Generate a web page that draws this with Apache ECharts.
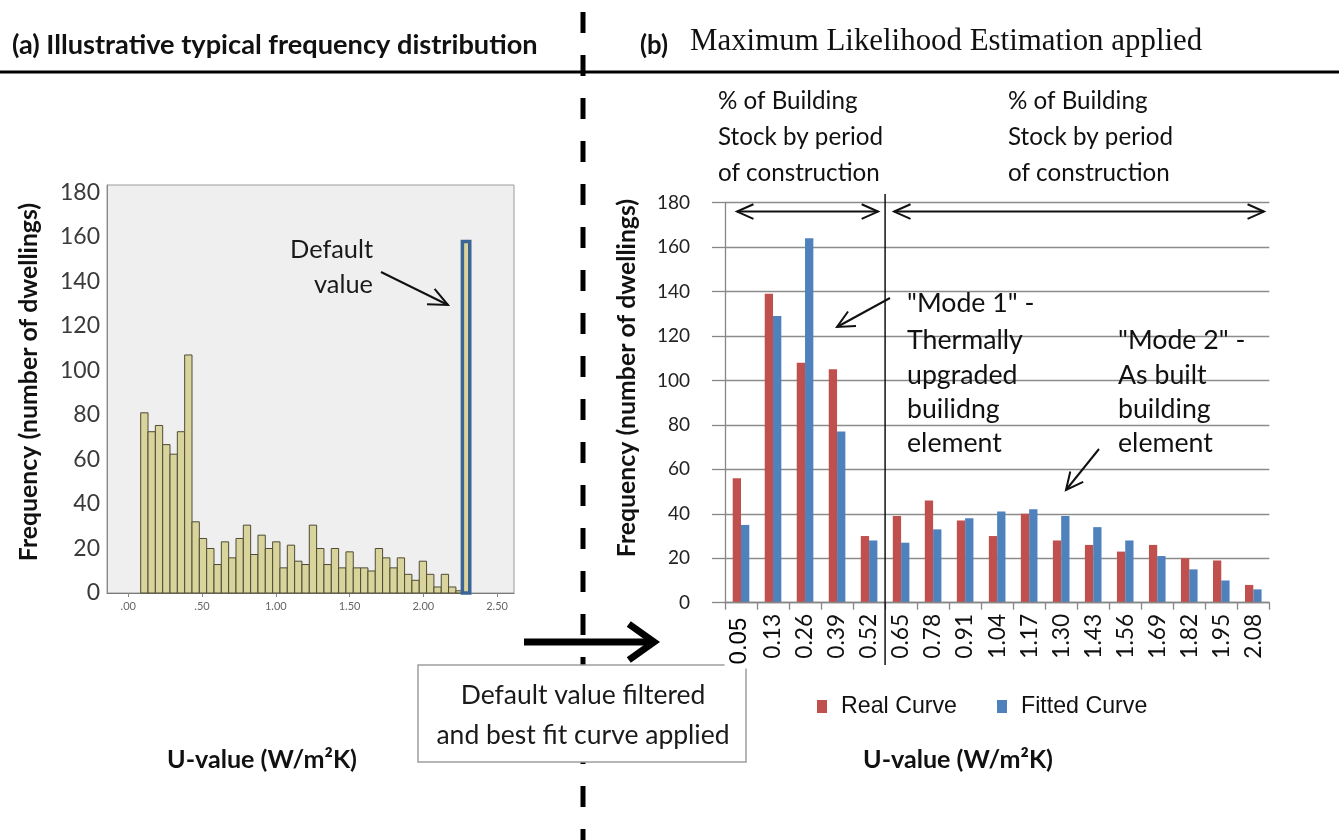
<!DOCTYPE html>
<html><head><meta charset="utf-8">
<script src="https://cdn.jsdelivr.net/npm/echarts@6/dist/echarts.min.js"></script>
<style>html,body{margin:0;padding:0;background:#fff}#c{width:1339px;height:840px}</style>
</head><body><div id="c"></div><script>
// ---------------- DATA ----------------
// (a) histogram: bins of U-value, counts
const histStart = 0.084;       // left edge of the first bin (U-value)
const histBinWidth = 0.0497;   // bin width (U-value)
const histCounts = [81,72.5,75.3,66.7,62.4,72.5,107,32,24.5,20,12.8,23,15.8,24.5,30.5,17.3,26,20,23,11.3,21.5,14.3,12.8,30.5,20,12.8,20,11.3,18.5,11.3,11.3,9.9,20,15.8,11.3,15.8,8.4,5.7,14.3,8.4,2.7,8.4,2.7,1];
const defaultBin = [2.265, 2.315, 158];   // [from, to, count] of the default-value bin
const histXTicks = [0, 0.5, 1, 1.5, 2, 2.5];
const histYTicks = [0, 20, 40, 60, 80, 100, 120, 140, 160, 180];

// (b) MLE applied
const uCategories = ['0.05','0.13','0.26','0.39','0.52','0.65','0.78','0.91','1.04','1.17','1.30','1.43','1.56','1.69','1.82','1.95','2.08'];
const realCurve   = [56,139,108,105,30,39,46,37,30,40,28,26,23,26,20,19,8];
const fittedCurve = [35,129,164,77,28,27,33,38,41,42,39,34,28,21,15,10,6];
const freqTicks = [0, 20, 40, 60, 80, 100, 120, 140, 160, 180];

// ---------------- helpers ----------------
const cv = document.createElement('canvas').getContext('2d');
function fit(text, width, family, weight){ cv.font = (weight||'normal') + ' 100px ' + family; return +(100*width/cv.measureText(text).width).toFixed(1); }
function tw(text, size, family, weight){ cv.font = (weight||'normal') + ' ' + size + 'px ' + family; return cv.measureText(text).width; }
const SANS = 'Lato';

function txt(text, x, y, size, opt, z){
  return {type:'text', x:x, y:y, silent:true, z:(z==null?100:z), style:Object.assign({text:text, fontSize:size, fontFamily:SANS, fill:'#111', align:'left', verticalAlign:'middle'}, opt||{})};
}
function head(x1,y1,x2,y2,len,ang,w,color){
  const a = Math.atan2(y2-y1, x2-x1);
  return {type:'polyline', silent:true, z:100, shape:{points:[[x2-len*Math.cos(a-ang), y2-len*Math.sin(a-ang)],[x2,y2],[x2-len*Math.cos(a+ang), y2-len*Math.sin(a+ang)]]}, style:{stroke:color, lineWidth:w, fill:null, lineJoin:'miter'}};
}
function line(x1,y1,x2,y2,w,color,dash,z){
  return {type:'line', silent:true, z:(z==null?100:z), shape:{x1:x1,y1:y1,x2:x2,y2:y2}, style:{stroke:color, lineWidth:w, lineDash:dash||null}};
}
function arrow(x1,y1,x2,y2,len,ang,w,color,both){
  const g = [line(x1,y1,x2,y2,w,color), head(x1,y1,x2,y2,len,ang,w,color)];
  if (both) g.push(head(x2,y2,x1,y1,len,ang,w,color));
  return g;
}

// histogram items
const histData = histCounts.map((c,i)=>[histStart + i*histBinWidth, histStart + (i+1)*histBinWidth, c]);

function rectItem(fill, stroke, lw){
  return function(params, api){
    const x0 = api.value(0), x1 = api.value(1), v = api.value(2);
    const p0 = api.coord([x0, v]), p1 = api.coord([x1, 0]);
    return {type:'rect', shape:{x:p0[0], y:p0[1], width:p1[0]-p0[0], height:p1[1]-p0[1]}, style:{fill:fill, stroke:stroke, lineWidth:lw}};
  };
}

const chart = echarts.init(document.getElementById('c'), null, {renderer:'canvas'});

const catLabelSize = fit('0.13', 45, SANS);
const legendSize = fit('Real Curve', 116, 'Liberation Sans');
const legendPad = 9;
const legendGap = 992 - (812 + 10 + 5 + legendPad + tw('Real Curve', legendSize, 'Liberation Sans'));

const option = {
  backgroundColor:'#fff',
  animation:false,
  grid:[
    {left:107, top:185, width:407, height:408, show:true, backgroundColor:'#efefef', borderColor:'#9b9b9b', borderWidth:1, outerBoundsMode:'none'},
    {left:725, top:202.7, width:544.3, height:400, outerBoundsMode:'none'}
  ],
  xAxis:[
    {type:'value', gridIndex:0, min:-0.1444, max:2.615,
     axisLine:{show:true, onZero:false, lineStyle:{color:'#7a7a7a', width:1}},
     axisTick:{show:true, customValues:histXTicks, length:4, lineStyle:{color:'#888'}},
     axisLabel:{customValues:histXTicks, fontSize:11, color:'#666', margin:8, fontFamily:SANS,
       formatter:function(v){ return v.toFixed(2).replace(/^0/, ''); }},
     splitLine:{show:false}},
    {type:'category', gridIndex:1, data:uCategories, boundaryGap:true, z:60,
     axisLine:{show:true, lineStyle:{color:'#868686', width:1.3}},
     axisTick:{show:true, alignWithLabel:false, length:7, interval:0, lineStyle:{color:'#868686', width:1.3}},
     axisLabel:{rotate:90, interval:0, fontSize:catLabelSize, color:'#111', fontFamily:SANS, margin:11,
       formatter:function(v,i){ return i===0 ? '{f|'+v+'}' : v; },
       rich:{f:{fontSize:24, fontFamily:'Liberation Sans', color:'#000', backgroundColor:'#fff', padding:[3,4,6,4]}}},
     splitLine:{show:false}}
  ],
  yAxis:[
    {type:'value', gridIndex:0, min:0, max:183.4,
     axisLine:{show:true, onZero:false, lineStyle:{color:'#8a8a8a'}},
     axisTick:{show:false},
     axisLabel:{customValues:histYTicks, fontSize:23, color:'#3a3a3a', margin:7, fontFamily:SANS},
     splitLine:{show:false}},
    {type:'value', gridIndex:1, min:0, max:180, interval:20,
     axisLine:{show:true, lineStyle:{color:'#868686', width:1.3}},
     axisTick:{show:true, length:13, lineStyle:{color:'#868686', width:1.3}},
     axisLabel:{fontSize:19, color:'#222', margin:35, fontFamily:SANS},
     splitLine:{show:true, lineStyle:{color:'#8c8c8c', width:1.3}}}
  ],
  legend:{
    data:['Real Curve','Fitted Curve'], left:812, top:690, orient:'horizontal',
    icon:'rect', itemWidth:10, itemHeight:13, itemGap:legendGap,
    textStyle:{fontSize:legendSize, fontFamily:'Liberation Sans', color:'#111', padding:[0,0,0,legendPad]}
  },
  series:[
    {type:'custom', name:'Histogram', xAxisIndex:0, yAxisIndex:0, data:histData, encode:{x:[0,1], y:2},
     renderItem:rectItem('#d9d39c', '#4e4c36', 1), silent:true},
    {type:'custom', name:'Default value', xAxisIndex:0, yAxisIndex:0, data:[defaultBin], encode:{x:[0,1], y:2},
     renderItem:rectItem('#d9d39c', '#3b6594', 3.5), silent:true},
    {type:'bar', name:'Real Curve', xAxisIndex:1, yAxisIndex:1, data:realCurve, barWidth:8.3, barGap:'0%', itemStyle:{color:'#c0504d'}},
    {type:'bar', name:'Fitted Curve', xAxisIndex:1, yAxisIndex:1, data:fittedCurve, barWidth:8.3, barGap:'0%', itemStyle:{color:'#4f81bd'}}
  ]
};
chart.setOption(option);

// ---------------- annotations ----------------
const g = [];
// frame lines
g.push(line(0, 72, 1339, 72, 3, '#000', null, 30));
g.push(line(583, 12, 583, 840, 5, '#000', [21, 22], 30));

// titles
g.push(txt('(a) Illustrative typical frequency distribution', 12, 45, fit('(a) Illustrative typical frequency distribution', 525, SANS, 'bold'), {fontWeight:'bold'}));
g.push(txt('(b)', 640, 46, fit('(b)', 28, SANS, 'bold'), {fontWeight:'bold'}));
g.push(txt('Maximum Likelihood Estimation applied', 690, 42, fit('Maximum Likelihood Estimation applied', 513, 'Liberation Serif'), {fontFamily:'Liberation Serif'}));

// axis titles
const yTitle = 'Frequency (number of dwellings)';
const yTitleSize = fit(yTitle, 358, SANS, 'bold');
g.push(txt(yTitle, 29, 382, yTitleSize, {fontWeight:'bold', align:'center'}));
g[g.length-1].rotation = Math.PI/2;
g.push(txt(yTitle, 627, 378, yTitleSize, {fontWeight:'bold', align:'center'}));
g[g.length-1].rotation = Math.PI/2;
const xTitle = 'U-value (W/m\u00B2K)';
const xTitleSize = fit(xTitle, 190, SANS, 'bold');
g.push(txt(xTitle, 262, 760, xTitleSize, {fontWeight:'bold', align:'center'}));
g.push(txt(xTitle, 958, 760, xTitleSize, {fontWeight:'bold', align:'center'}));

// "% of Building Stock by period of construction"
const stockLines = ['% of Building', 'Stock by period', 'of construction'];
const stockSize = fit('Stock by period', 165, SANS);
[718, 1008].forEach(function(x){
  stockLines.forEach(function(s, i){ g.push(txt(s, x, 101 + i*36, stockSize)); });
});

// Mode texts
const modeSize = fit('Thermally', 116, SANS);
const m1 = ['"Mode 1" -', 'Thermally', 'upgraded', 'builidng', 'element'];
const m1y = [303, 340, 375, 409, 443];
m1.forEach(function(s,i){ g.push(txt(s, 907, m1y[i], modeSize)); });
const m2 = ['"Mode 2" -', 'As built', 'building', 'element'];
const m2y = [340, 375, 409, 443];
m2.forEach(function(s,i){ g.push(txt(s, 1118, m2y[i], modeSize)); });
g.push.apply(g, arrow(890, 298, 837, 327, 19, 0.45, 2, '#111'));
g.push.apply(g, arrow(1099, 449, 1066, 490, 19, 0.45, 2, '#111'));

// default value annotation (a)
const dvSize = fit('Default', 83, SANS);
g.push(txt('Default', 290, 250, dvSize, {fill:'#1a1a1a'}));
g.push(txt('value', 373, 285, dvSize, {fill:'#1a1a1a', align:'right'}));
g.push.apply(g, arrow(381, 272, 448, 305, 21, 0.42, 2, '#111'));

// big arrow between panels
g.push.apply(g, arrow(524, 642, 654, 642, 31, 0.62, 7, '#000'));

// box (under the axis labels of (b), over the dashed divider)
g.push({type:'rect', silent:true, z:40, shape:{x:418, y:665, width:328, height:97}, style:{fill:'#fff', stroke:'#9e9e9e', lineWidth:1.5}});
const boxSize = fit('and best fit curve applied', 293, SANS);
g.push(txt('Default value filtered', 583, 695, boxSize, {align:'center', fill:'#1a1a1a'}, 45));
g.push(txt('and best fit curve applied', 583, 735, boxSize, {align:'center', fill:'#1a1a1a'}, 45));

// category divider & period arrows in (b), placed from the category scale
const c4 = chart.convertToPixel({xAxisIndex:1}, '0.52');
const c5 = chart.convertToPixel({xAxisIndex:1}, '0.65');
const divX = (c4 + c5) / 2;
g.push(line(divX, 194, divX, 665, 1.5, '#111'));
const arrY = chart.convertToPixel({yAxisIndex:1}, 176);
g.push.apply(g, arrow(737, arrY, divX - 7, arrY, 18, 0.42, 2, '#111', true));
g.push.apply(g, arrow(divX + 9, arrY, 1264, arrY, 18, 0.42, 2, '#111', true));

chart.setOption({graphic:{elements:g}});
</script></body></html>
